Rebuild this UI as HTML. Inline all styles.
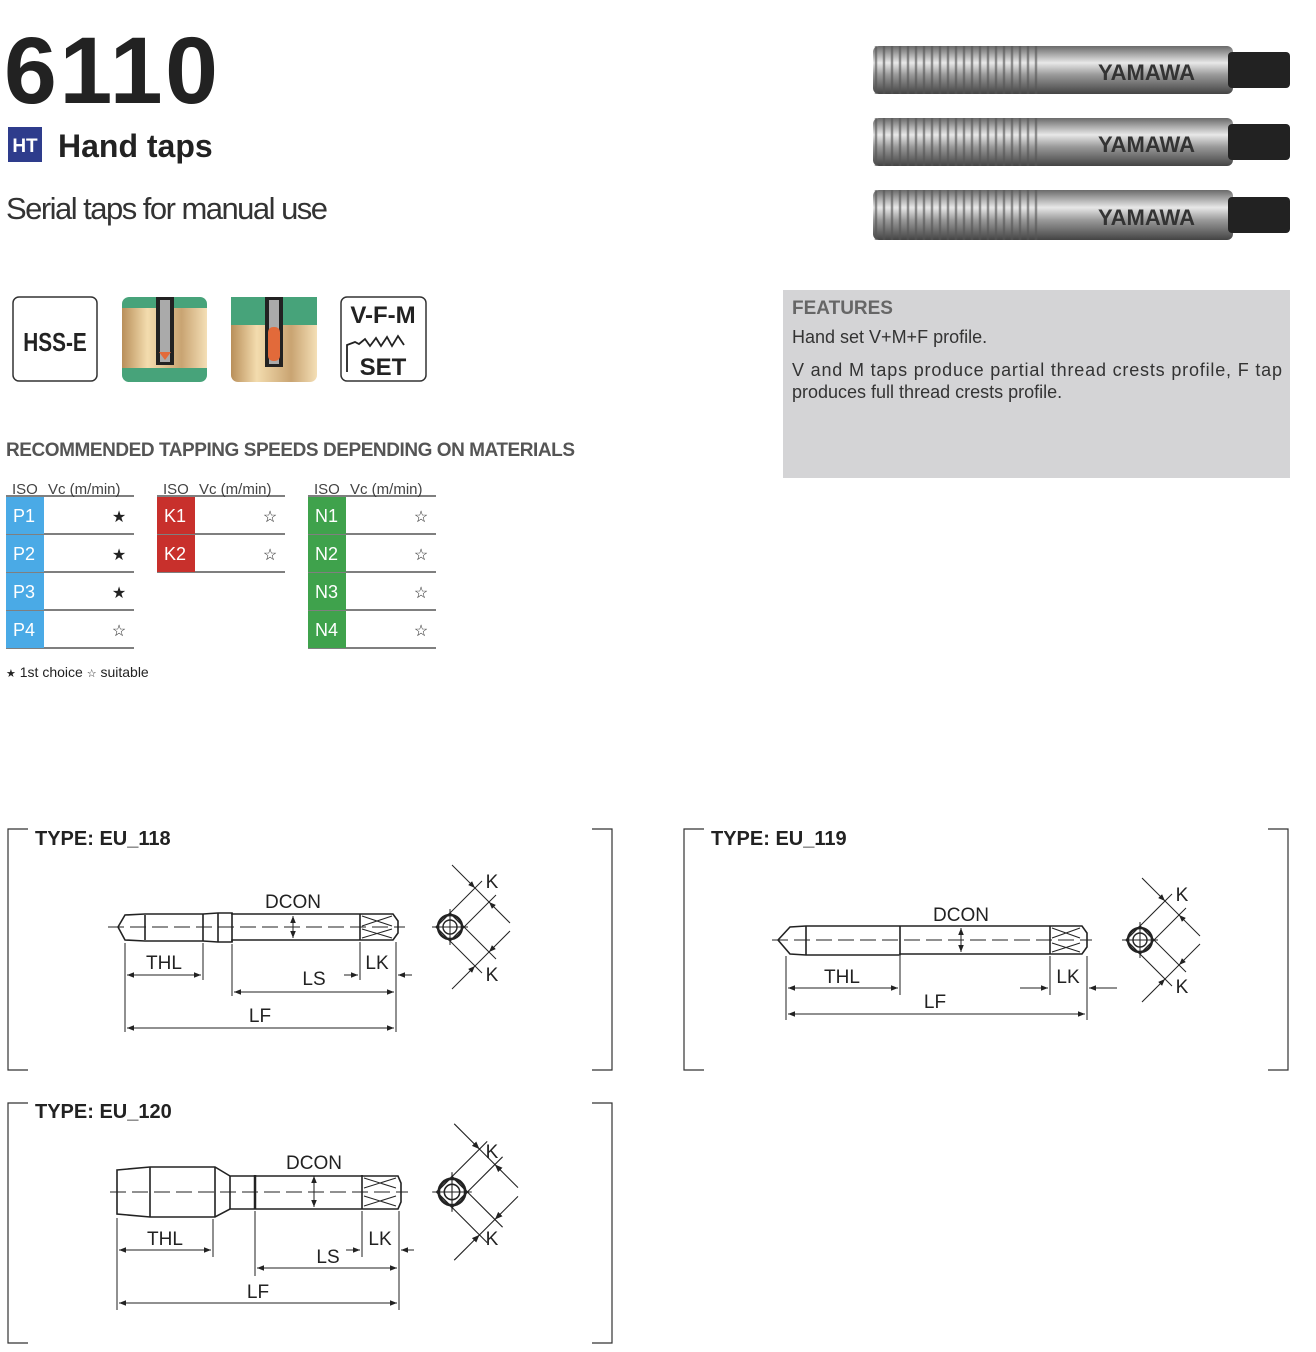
<!DOCTYPE html>
<html><head><meta charset="utf-8"><style>
body{margin:0;background:#fff}
svg{display:block}
text{font-family:"Liberation Sans",sans-serif}
</style></head><body>
<svg width="1316" height="1352" viewBox="0 0 1316 1352" xmlns="http://www.w3.org/2000/svg">
<defs>
<linearGradient id="metal" x1="0" y1="0" x2="0" y2="1">
<stop offset="0" stop-color="#6a6a6a"/><stop offset="0.35" stop-color="#e8e8e8"/><stop offset="0.6" stop-color="#9a9a9a"/><stop offset="1" stop-color="#444"/></linearGradient>
<linearGradient id="gold" x1="0" y1="0" x2="1" y2="0">
<stop offset="0" stop-color="#b98f5a"/><stop offset="0.3" stop-color="#f3dcae"/><stop offset="0.7" stop-color="#c9a472"/><stop offset="1" stop-color="#f4dfb6"/></linearGradient>
<pattern id="thr" width="8" height="60" patternUnits="userSpaceOnUse"><rect width="8" height="60" fill="none"/><line x1="4" y1="0" x2="4" y2="60" stroke="#555" stroke-width="2.5" opacity="0.6"/></pattern>
<marker id="a" viewBox="0 0 10 10" refX="10" refY="5" markerWidth="7" markerHeight="7" orient="auto-start-reverse"><path d="M0,1 L10,5 L0,9 z" fill="#222"/></marker>
<g id="kv" fill="none" stroke="#222" stroke-width="1">
<line x1="0" y1="-14" x2="32" y2="-46"/><line x1="14" y1="0" x2="46" y2="-32"/>
<line x1="0" y1="14" x2="32" y2="46"/><line x1="14" y1="0" x2="46" y2="32"/>
<line x1="2" y1="-62" x2="25" y2="-39" marker-end="url(#a)"/><line x1="60" y1="-4" x2="39" y2="-25" marker-end="url(#a)"/>
<line x1="25" y1="-39" x2="39" y2="-25"/>
<line x1="2" y1="62" x2="25" y2="39" marker-end="url(#a)"/><line x1="60" y1="4" x2="39" y2="25" marker-end="url(#a)"/>
<line x1="25" y1="39" x2="39" y2="25"/>
<line x1="-18" y1="0" x2="18" y2="0"/><line x1="0" y1="-18" x2="0" y2="18"/>
<path d="M0 -14 L14 0 L0 14 L-14 0 Z" stroke-width="1.4"/>
<circle r="12" stroke-width="2.5"/><circle r="7" stroke-width="1.4"/>
</g>
</defs>
<!-- header -->
<text x="4" y="103" font-size="95" font-weight="bold" fill="#222" textLength="214">6110</text>
<rect x="8" y="127" width="34" height="35" fill="#2e3c8c"/>
<text x="25" y="152" font-size="19" font-weight="bold" fill="#fff" text-anchor="middle">HT</text>
<text x="58" y="157" font-size="32" font-weight="bold" fill="#222">Hand taps</text>
<text x="6" y="219" font-size="31" fill="#333" textLength="322">Serial taps for manual use</text>
<!-- photo -->
<g>
<rect x="873" y="46" width="360" height="48" rx="6" fill="url(#metal)"/><rect x="873" y="46" width="165" height="48" fill="url(#thr)"/><rect x="1228" y="52" width="62" height="36" rx="4" fill="#222"/>
<rect x="873" y="118" width="360" height="48" rx="6" fill="url(#metal)"/><rect x="873" y="118" width="165" height="48" fill="url(#thr)"/><rect x="1228" y="124" width="62" height="36" rx="4" fill="#222"/>
<rect x="873" y="190" width="360" height="50" rx="6" fill="url(#metal)"/><rect x="873" y="190" width="165" height="50" fill="url(#thr)"/><rect x="1228" y="197" width="62" height="36" rx="4" fill="#222"/>
<text x="1098" y="80" font-size="22" font-weight="bold" fill="#333">YAMAWA</text>
<text x="1098" y="152" font-size="22" font-weight="bold" fill="#333">YAMAWA</text>
<text x="1098" y="225" font-size="22" font-weight="bold" fill="#333">YAMAWA</text>
</g>
<!-- features -->
<rect x="783" y="290" width="507" height="188" fill="#d4d4d6"/>
<text x="792" y="314" font-size="19" font-weight="bold" fill="#666">FEATURES</text>
<text x="792" y="343" font-size="18" fill="#333">Hand set V+M+F profile.</text>
<text x="792" y="376" font-size="18" fill="#333" textLength="490">V and M taps produce partial thread crests profile, F tap</text>
<text x="792" y="398" font-size="18" fill="#333">produces full thread crests profile.</text>
<!-- icons -->
<rect x="13" y="297" width="84" height="84" rx="6" fill="#fff" stroke="#333" stroke-width="1.5"/>
<text x="55" y="351" font-size="26" font-weight="bold" text-anchor="middle" fill="#222" transform="translate(55 0) scale(0.8 1) translate(-55 0)" >HSS-E</text>
<rect x="122" y="297" width="85" height="85" rx="7" fill="#47a37a"/>
<rect x="122" y="308" width="85" height="60" fill="url(#gold)"/>
<rect x="156" y="297" width="18" height="68" fill="#222"/><rect x="160" y="300" width="10" height="62" fill="#aaa"/>
<path d="M165 360 l-6 -8 h12 z" fill="#e26a3a"/>
<rect x="231" y="297" width="86" height="85" rx="7" fill="url(#gold)"/>
<rect x="231" y="297" width="86" height="28" fill="#47a37a"/>
<rect x="265" y="297" width="18" height="70" fill="#222"/><rect x="269" y="300" width="10" height="64" fill="#aaa"/>
<rect x="268" y="327" width="12" height="34" rx="5" fill="#e26a3a"/>
<rect x="341" y="297" width="85" height="84" rx="6" fill="#fff" stroke="#333" stroke-width="1.5"/>
<text x="383" y="323" font-size="24" font-weight="bold" text-anchor="middle" fill="#222">V-F-M</text>
<path d="M347 372 V345 l8 -3 l4 2 l6 -5 l5 7 l6 -8 l5 8 l6 -9 l5 9 l6 -10 l6 9" fill="none" stroke="#222" stroke-width="1.8"/>
<text x="383" y="375" font-size="24" font-weight="bold" text-anchor="middle" fill="#222">SET</text>
<!-- speeds -->
<text x="6" y="456" font-size="19" font-weight="bold" fill="#555" textLength="569">RECOMMENDED TAPPING SPEEDS DEPENDING ON MATERIALS</text>
<g font-size="15" fill="#444">
<text x="12" y="494">ISO</text><text x="48" y="494">Vc (m/min)</text>
<text x="163" y="494">ISO</text><text x="199" y="494">Vc (m/min)</text>
<text x="314" y="494">ISO</text><text x="350" y="494">Vc (m/min)</text>
</g>
<g stroke="#333" stroke-width="1.2">
<line x1="6" y1="496" x2="134" y2="496"/><line x1="157" y1="496" x2="285" y2="496"/><line x1="308" y1="496" x2="436" y2="496"/>
<line x1="6" y1="534" x2="134" y2="534"/><line x1="6" y1="572" x2="134" y2="572"/><line x1="6" y1="610" x2="134" y2="610"/><line x1="6" y1="648" x2="134" y2="648"/>
<line x1="157" y1="534" x2="285" y2="534"/><line x1="157" y1="572" x2="285" y2="572"/>
<line x1="308" y1="534" x2="436" y2="534"/><line x1="308" y1="572" x2="436" y2="572"/><line x1="308" y1="610" x2="436" y2="610"/><line x1="308" y1="648" x2="436" y2="648"/>
</g>
<g fill="#4aaae6"><rect x="6" y="497" width="38" height="37"/><rect x="6" y="535" width="38" height="37"/><rect x="6" y="573" width="38" height="37"/><rect x="6" y="611" width="38" height="37"/></g>
<g fill="#c8302c"><rect x="157" y="497" width="38" height="37"/><rect x="157" y="535" width="38" height="37"/></g>
<g fill="#3fa24c"><rect x="308" y="497" width="38" height="37"/><rect x="308" y="535" width="38" height="37"/><rect x="308" y="573" width="38" height="37"/><rect x="308" y="611" width="38" height="37"/></g>
<g font-size="18" fill="#fff">
<text x="13" y="522">P1</text><text x="13" y="560">P2</text><text x="13" y="598">P3</text><text x="13" y="636">P4</text>
<text x="164" y="522">K1</text><text x="164" y="560">K2</text>
<text x="315" y="522">N1</text><text x="315" y="560">N2</text><text x="315" y="598">N3</text><text x="315" y="636">N4</text>
</g>
<g font-size="16" fill="#222" text-anchor="middle" font-family="DejaVu Sans">
<text x="119" y="522">★</text><text x="119" y="560">★</text><text x="119" y="598">★</text><text x="119" y="636">☆</text>
<text x="270" y="522">☆</text><text x="270" y="560">☆</text>
<text x="421" y="522">☆</text><text x="421" y="560">☆</text><text x="421" y="598">☆</text><text x="421" y="636">☆</text>
</g>
<text x="6" y="677" font-size="14" fill="#222"><tspan font-family="DejaVu Sans" font-size="11">★</tspan> 1st choice <tspan font-family="DejaVu Sans" font-size="11">☆</tspan> suitable</text>

<!-- frames -->
<g fill="none" stroke="#333" stroke-width="1.2">
<path d="M28 829 H8 V1070 H28"/><path d="M592 829 H612 V1070 H592"/>
<path d="M704 829 H684 V1070 H704"/><path d="M1268 829 H1288 V1070 H1268"/>
<path d="M28 1103 H8 V1343 H28"/><path d="M592 1103 H612 V1343 H592"/>
</g>
<g font-size="20" font-weight="bold" fill="#222">
<text x="35" y="845">TYPE: EU_118</text><text x="711" y="845">TYPE: EU_119</text><text x="35" y="1118">TYPE: EU_120</text>
</g>

<g fill="none" stroke="#222" stroke-width="1.6">
<!-- EU_118 -->
<path d="M125 915 L118 927 L125 940 L145 941 H203 L218 942 H232 V940 H360 L393 940 L398 933 V921 L393 914 H360 H232 V913 H218 L203 914 H145 Z"/>
<line x1="145" y1="915" x2="145" y2="940"/><line x1="203" y1="914" x2="203" y2="941"/><line x1="218" y1="913" x2="218" y2="942"/><line x1="232" y1="913" x2="232" y2="942"/><line x1="360" y1="914" x2="360" y2="940"/>
<path d="M362 916 L392 926 M362 926 L392 916 M362 929 L392 938 M362 938 L392 929" stroke-width="1"/>
<!-- EU_119 -->
<path d="M790 927 L778 940 L790 954 L806 955 H900 V954 H1050 H1082 L1087 947 V933 L1082 926 H1050 H900 V926 L806 926 Z"/>
<line x1="806" y1="926" x2="806" y2="955"/><line x1="900" y1="926" x2="900" y2="954"/><line x1="1050" y1="926" x2="1050" y2="954"/>
<path d="M1052 928 L1080 938 M1052 938 L1080 928 M1052 943 L1080 952 M1052 952 L1080 943" stroke-width="1"/>
<!-- EU_120 -->
<path d="M117 1170 L150 1167 H215 L230 1176 H255 H362 H398 L401 1183 V1202 L398 1209 H362 H255 H230 L215 1217 H150 L117 1214 Z"/>
<line x1="150" y1="1167" x2="150" y2="1217"/><line x1="215" y1="1167" x2="215" y2="1217"/><line x1="230" y1="1176" x2="230" y2="1209"/><line x1="255" y1="1175" x2="255" y2="1209" stroke-width="2.5"/><line x1="362" y1="1175" x2="362" y2="1209"/>
<path d="M364 1178 L396 1188 M364 1188 L396 1178 M364 1196 L396 1206 M364 1206 L396 1196" stroke-width="1"/>
</g>
<use href="#kv" transform="translate(450 927)"/>
<use href="#kv" transform="translate(1140 940)"/>
<use href="#kv" transform="translate(452 1192) scale(1.1)"/>
<!-- center lines -->
<g stroke="#222" stroke-width="1" stroke-dasharray="16 6">
<line x1="108" y1="927" x2="405" y2="927"/><line x1="772" y1="940" x2="1092" y2="940"/><line x1="110" y1="1192" x2="408" y2="1192"/>
</g>
<!-- dims -->
<g stroke="#222" stroke-width="1" fill="none">
<line x1="125" y1="943" x2="125" y2="1032"/><line x1="203" y1="943" x2="203" y2="980"/><line x1="232" y1="944" x2="232" y2="996"/><line x1="360" y1="942" x2="360" y2="980"/><line x1="396" y1="942" x2="396" y2="1032"/>
<line x1="127" y1="975" x2="201" y2="975" marker-start="url(#a)" marker-end="url(#a)"/>
<line x1="234" y1="992" x2="394" y2="992" marker-start="url(#a)" marker-end="url(#a)"/>
<line x1="127" y1="1028" x2="394" y2="1028" marker-start="url(#a)" marker-end="url(#a)"/>
<line x1="344" y1="975" x2="358" y2="975" marker-end="url(#a)"/><line x1="412" y1="975" x2="398" y2="975" marker-end="url(#a)"/>
<line x1="293" y1="916" x2="293" y2="938" marker-start="url(#a)" marker-end="url(#a)"/>
<line x1="786" y1="956" x2="786" y2="1020"/><line x1="900" y1="956" x2="900" y2="995"/><line x1="1050" y1="956" x2="1050" y2="995"/><line x1="1087" y1="956" x2="1087" y2="1020"/>
<line x1="788" y1="988" x2="898" y2="988" marker-start="url(#a)" marker-end="url(#a)"/>
<line x1="788" y1="1014" x2="1085" y2="1014" marker-start="url(#a)" marker-end="url(#a)"/>
<line x1="1020" y1="988" x2="1048" y2="988" marker-end="url(#a)"/><line x1="1117" y1="988" x2="1089" y2="988" marker-end="url(#a)"/>
<line x1="961" y1="928" x2="961" y2="952" marker-start="url(#a)" marker-end="url(#a)"/>
<line x1="117" y1="1218" x2="117" y2="1310"/><line x1="213" y1="1219" x2="213" y2="1257"/><line x1="255" y1="1211" x2="255" y2="1276"/><line x1="362" y1="1211" x2="362" y2="1257"/><line x1="399" y1="1211" x2="399" y2="1310"/>
<line x1="119" y1="1250" x2="211" y2="1250" marker-start="url(#a)" marker-end="url(#a)"/>
<line x1="257" y1="1268" x2="397" y2="1268" marker-start="url(#a)" marker-end="url(#a)"/>
<line x1="119" y1="1303" x2="397" y2="1303" marker-start="url(#a)" marker-end="url(#a)"/>
<line x1="346" y1="1250" x2="360" y2="1250" marker-end="url(#a)"/><line x1="414" y1="1250" x2="401" y2="1250" marker-end="url(#a)"/>
<line x1="314" y1="1176" x2="314" y2="1207" marker-start="url(#a)" marker-end="url(#a)"/>
</g>
<g font-size="19" fill="#222" text-anchor="middle">
<text x="293" y="908">DCON</text><text x="164" y="969">THL</text><text x="314" y="985">LS</text><text x="377" y="969">LK</text><text x="260" y="1022">LF</text>
<text x="492" y="888">K</text><text x="492" y="981">K</text>
<text x="961" y="921">DCON</text><text x="842" y="983">THL</text><text x="1068" y="983">LK</text><text x="935" y="1008">LF</text>
<text x="1182" y="901">K</text><text x="1182" y="993">K</text>
<text x="314" y="1169">DCON</text><text x="165" y="1245">THL</text><text x="328" y="1263">LS</text><text x="380" y="1245">LK</text><text x="258" y="1298">LF</text>
<text x="492" y="1158">K</text><text x="492" y="1245">K</text>
</g>
</svg>
</body></html>
